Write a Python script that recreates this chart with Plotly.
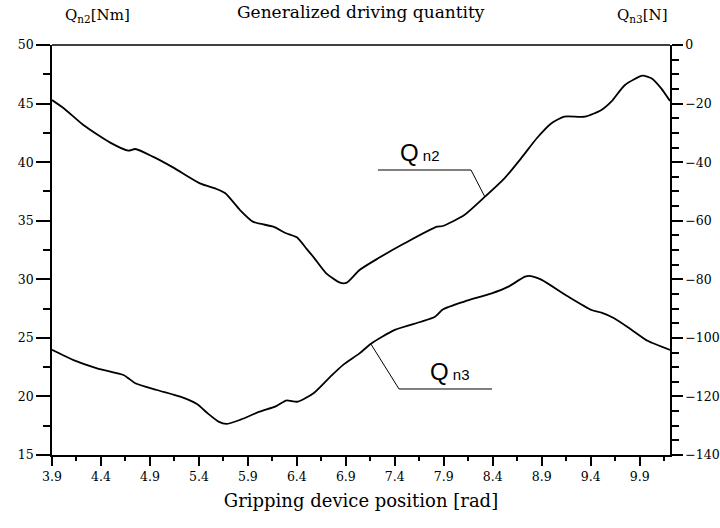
import plotly.graph_objects as go

# Qn2 [Nm] (left axis)
qn2_x = [3.90, 4.02, 4.22, 4.49, 4.68, 4.75, 4.93, 5.14, 5.41, 5.58, 5.67, 5.82, 5.95, 6.16, 6.29, 6.40,
         6.50, 6.58, 6.70, 6.84, 6.91, 7.04, 7.23, 7.50, 7.83, 7.89, 8.11, 8.32, 8.52, 8.69, 8.85,
         9.00, 9.13, 9.34, 9.51, 9.61, 9.75, 9.93, 10.02, 10.12, 10.21]
qn2_y = [45.3, 44.6, 43.17, 41.69, 40.98, 41.12, 40.47, 39.53, 38.19, 37.71, 37.34, 35.91, 34.92, 34.49, 33.93, 33.58,
         32.6, 31.79, 30.51, 29.71, 29.71, 30.79, 31.79, 33.07, 34.49, 34.55, 35.49, 37.05, 38.62, 40.33, 42.04,
         43.32, 43.88, 43.88, 44.45, 45.16, 46.59, 47.38, 47.16, 46.30, 45.22]

# Qn3 [N] (right axis)
qn3_x = [3.90, 4.12, 4.36, 4.63, 4.68, 4.75, 4.97, 5.21, 5.38, 5.49, 5.60, 5.68, 5.82, 6.02, 6.19, 6.29,
         6.41, 6.57, 6.74, 6.87, 7.04, 7.16, 7.40, 7.67, 7.81, 7.89, 8.11, 8.39, 8.56, 8.73, 8.79,
         8.90, 9.17, 9.41, 9.51, 9.64, 9.82, 9.98, 10.21]
qn3_y = [-104.1, -107.6, -110.4, -112.7, -113.8, -115.5, -117.8, -120.1, -122.6, -125.8, -128.6, -129.4, -128.0,
         -125.2, -123.3, -121.4, -121.8, -118.9, -113.3, -109.3, -105.3, -101.9, -97.3, -94.5, -92.8, -90.3,
         -87.6, -84.8, -82.5, -79.1, -78.9, -80.2, -85.9, -90.5, -91.4, -93.3, -97.3, -101.0, -104.1]

x_ticks = [3.9, 4.4, 4.9, 5.4, 5.9, 6.4, 6.9, 7.4, 7.9, 8.4, 8.9, 9.4, 9.9]
x_labels = ["3.9", "4.4", "4.9", "5.4", "5.9", "6.4", "6.9", "7.4", "7.9", "8.4", "8.9", "9.4", "9.9"]

FONT = "DejaVu Serif"
TICKFONT = dict(size=12.5, family=FONT)

fig = go.Figure()
fig.add_trace(go.Scatter(x=qn2_x, y=qn2_y, mode="lines", line=dict(color="black", width=1.8, shape="spline", smoothing=0.6),
                         showlegend=False, yaxis="y"))
fig.add_trace(go.Scatter(x=qn3_x, y=qn3_y, mode="lines", line=dict(color="black", width=1.8, shape="spline", smoothing=0.6),
                         showlegend=False, yaxis="y2"))

fig.update_layout(
    width=720, height=528,
    margin=dict(l=52, r=50, t=45, b=73, autoexpand=False),
    plot_bgcolor="white", paper_bgcolor="white",
    font=dict(family=FONT, size=12, color="black"),
    xaxis=dict(range=[3.9, 10.21], tickvals=x_ticks, ticktext=x_labels, ticks="outside", ticklen=9,
               tickwidth=1.5, tickcolor="black", showline=True, linecolor="black", linewidth=1.5, mirror=False,
               showgrid=False, zeroline=False, automargin=False,
               minor=dict(dtick=0.5, tick0=4.15, ticks="outside", ticklen=4, tickcolor="black", tickwidth=1.5),
               title=dict(text="Gripping device position [rad]", font=dict(size=18, family=FONT), standoff=12),
               tickfont=TICKFONT),
    yaxis=dict(range=[15, 50], dtick=5, ticks="outside", ticklen=14, tickwidth=1.5, tickcolor="black",
               showline=True, linecolor="black", linewidth=1.5, showgrid=False, zeroline=False, automargin=False,
               minor=dict(dtick=2.5, ticks="outside", ticklen=7, tickcolor="black", tickwidth=1.5),
               tickfont=TICKFONT),
    yaxis2=dict(range=[-140, 0], dtick=20, overlaying="y", side="right", ticks="outside", ticklen=11,
                tickwidth=1.5, tickcolor="black", showline=True, linecolor="black", linewidth=1.5,
                showgrid=False, zeroline=False, automargin=False,
                minor=dict(dtick=5, ticks="outside", ticklen=7, tickcolor="black", tickwidth=1.5),
                tickfont=TICKFONT),
)

# top frame line
fig.add_shape(type="line", xref="paper", yref="paper", x0=0, x1=1, y0=1, y1=1,
              line=dict(color="black", width=1.5))

# header texts
fig.add_annotation(text="Generalized driving quantity", xref="paper", yref="paper", x=0.5, y=1.05,
                   xanchor="center", yanchor="bottom", showarrow=False, font=dict(size=17, family=FONT))
fig.add_annotation(text="Q<sub>n2</sub>[Nm]", xref="paper", yref="paper", x=0.018, y=1.045,
                   xanchor="left", yanchor="bottom", showarrow=False, font=dict(size=15, family=FONT))
fig.add_annotation(text="Q<sub>n3</sub>[N]", xref="paper", yref="paper", x=1.0, y=1.045,
                   xanchor="right", yanchor="bottom", showarrow=False, font=dict(size=15, family=FONT))

# curve labels with leader lines
SANS = "Liberation Sans"
fig.add_annotation(text="Q<span style='font-size:15px'> n2</span>", xref="paper", yref="paper",
                   x=0.56, y=0.70, xanchor="left", yanchor="bottom", showarrow=False,
                   font=dict(size=24, family=SANS))
fig.add_shape(type="path", xref="paper", yref="paper",
              path="M 0.5275 0.6951 L 0.678 0.6951 L 0.7006 0.6293", line=dict(color="black", width=1))
fig.add_annotation(text="Q<span style='font-size:15px'> n3</span>", xref="paper", yref="paper",
                   x=0.608, y=0.165, xanchor="left", yanchor="bottom", showarrow=False,
                   font=dict(size=24, family=SANS))
fig.add_shape(type="path", xref="paper", yref="paper",
              path="M 0.516 0.2707 L 0.5615 0.161 L 0.712 0.161", line=dict(color="black", width=1))

fig.write_html("out.html", config={"displayModeBar": False},
               post_script="document.body.style.margin='0px';")
